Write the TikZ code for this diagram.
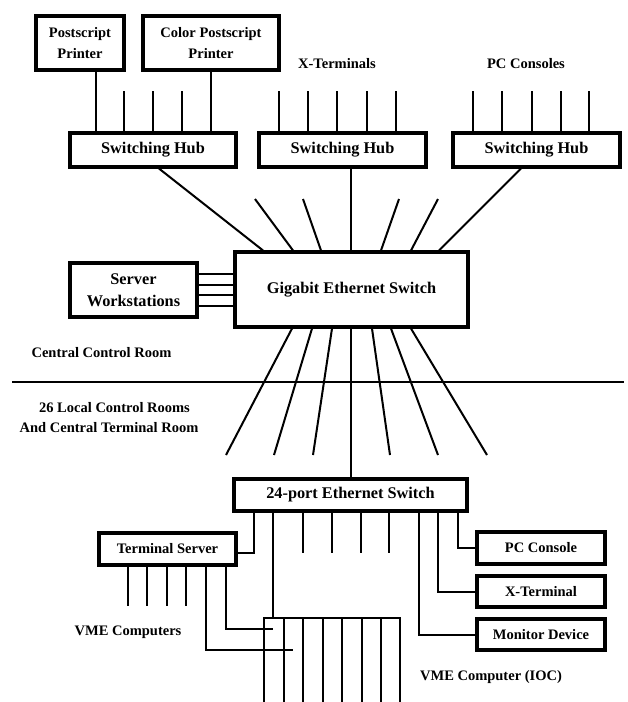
\documentclass[tikz,border=0pt]{standalone}
\usepackage{fontspec}
\setmainfont{Liberation Serif}
\begin{document}
\begin{tikzpicture}[x=1pt,y=-1pt,
  box/.style={draw, line width=3.1pt, inner sep=0pt, align=center, font=\fontsize{14.5}{21}\selectfont\bfseries},
  bigbox/.style={box, font=\fontsize{16.3}{22}\selectfont\bfseries},
  lbl/.style={inner sep=0pt, font=\fontsize{14.5}{17}\selectfont\bfseries},
  wire/.style={line width=2pt},
  thinline/.style={line width=1.2pt}]
\useasboundingbox (0,0) rectangle (627,702);

% top devices and hubs
\node[box, minimum width=88pt, minimum height=54pt] (psp) at (80,43) {Postscript\\Printer};
\node[box, minimum width=136pt, minimum height=54pt] (cpp) at (211,43) {Color Postscript\\Printer};
\node[bigbox, minimum width=166pt, minimum height=34pt] (hub1) at (153,150) {Switching Hub};
\node[bigbox, minimum width=167pt, minimum height=34pt] (hub2) at (342.5,150) {Switching Hub};
\node[bigbox, minimum width=167pt, minimum height=34pt] (hub3) at (536.5,150) {Switching Hub};
\node[lbl] (xtl) at (337,64) {X-Terminals};
\node[lbl] (pcl) at (526,64) {PC Consoles};

% central switch
\node[bigbox, minimum width=233pt, minimum height=75pt] (gig) at (351.5,289.5) {Gigabit Ethernet Switch};
\node[bigbox, minimum width=127pt, minimum height=54pt] (srv) at (133.5,290) {Server\\Workstations};
\node[lbl] (ccr) at (101.5,353) {Central Control Room};
\coordinate (sepL) at (12,382);
\coordinate (sepR) at (624,382);
\node[lbl] (lcr1) at (114.5,408) {26 Local Control Rooms};
\node[lbl] (lcr2) at (109,428) {And Central Terminal Room};

% lower part
\node[bigbox, minimum width=233pt, minimum height=32pt] (esw) at (350.5,495) {24-port Ethernet Switch};
\node[box, minimum width=137pt, minimum height=32pt] (ts) at (167.5,549) {Terminal Server};
\node[box, minimum width=128pt, minimum height=32pt] (pcc) at (541,548) {PC Console};
\node[box, minimum width=128pt, minimum height=31pt] (xt) at (541,591.5) {X-Terminal};
\node[box, minimum width=128pt, minimum height=31pt] (mon) at (541,634.5) {Monitor Device};
\node[lbl] (vmel) at (128,632) {VME Computers};
\node[lbl] (iocl) at (491,677) {VME Computer (IOC)};

% VME crate
\coordinate (crateTL) at (264,618);
\coordinate (crateTR) at (400,618);
\draw[line width=2.8pt] (264,702) -- (crateTL) -- (crateTR) -- (400,702);
\foreach \x in {284,303,323,342,362,381}
  \draw[thinline] (\x,618) -- (\x,702);

% separator
\draw[thinline] (sepL) -- (sepR);

% top connectors
\draw[wire] (96,0 |- psp.south) -- (96,0 |- hub1.north);
\draw[wire] (211,0 |- cpp.south) -- (211,0 |- hub1.north);
\foreach \x in {124,153,182}
  \draw[wire] (\x,91) -- (\x,0 |- hub1.north);
\foreach \x in {279,308,337,367,396}
  \draw[wire] (\x,91) -- (\x,0 |- hub2.north);
\foreach \x in {473,502,532,561,589}
  \draw[wire] (\x,91) -- (\x,0 |- hub3.north);

% hubs to gigabit switch
\draw[wire] (159,0 |- hub1.south) -- (263,0 |- gig.north);
\draw[wire] (351,0 |- hub2.south) -- (351,0 |- gig.north);
\draw[wire] (521,0 |- hub3.south) -- (439,0 |- gig.north);
\draw[wire] (255,199) -- (293,0 |- gig.north);
\draw[wire] (303,199) -- (321,0 |- gig.north);
\draw[wire] (399,199) -- (381,0 |- gig.north);
\draw[wire] (438,199) -- (411,0 |- gig.north);

% servers to gigabit switch
\foreach \y in {274,285,295,306}
  \draw[wire] (srv.east |- 0,\y) -- (gig.west |- 0,\y);

% gigabit switch downwards
\draw[wire] (292,0 |- gig.south) -- (226,455);
\draw[wire] (312,0 |- gig.south) -- (274,455);
\draw[wire] (332,0 |- gig.south) -- (313,455);
\draw[wire] (351,0 |- gig.south) -- (351,0 |- esw.north);
\draw[wire] (372,0 |- gig.south) -- (390,455);
\draw[wire] (391,0 |- gig.south) -- (438,455);
\draw[wire] (411,0 |- gig.south) -- (487,455);

% 24-port switch connections
\draw[wire] (ts.east |- 0,553) -- (254,553) -- (254,0 |- esw.south);
\draw[wire] (273,0 |- esw.south) -- (273,0 |- crateTL);
\foreach \x in {303,332,361,389}
  \draw[wire] (\x,0 |- esw.south) -- (\x,553);
\draw[wire] (458,0 |- esw.south) -- (458,0 |- pcc.west) -- (pcc.west);
\draw[wire] (438,0 |- esw.south) -- (438,0 |- xt.west) -- (xt.west);
\draw[wire] (419,0 |- esw.south) -- (419,0 |- mon.west) -- (mon.west);

% terminal server connections
\foreach \x in {128,147,167,186}
  \draw[wire] (\x,0 |- ts.south) -- (\x,606);
\draw[wire] (226,0 |- ts.south) -- (226,629) -- (273,629);
\draw[wire] (206,0 |- ts.south) -- (206,650) -- (293,650);
\end{tikzpicture}
\end{document}
